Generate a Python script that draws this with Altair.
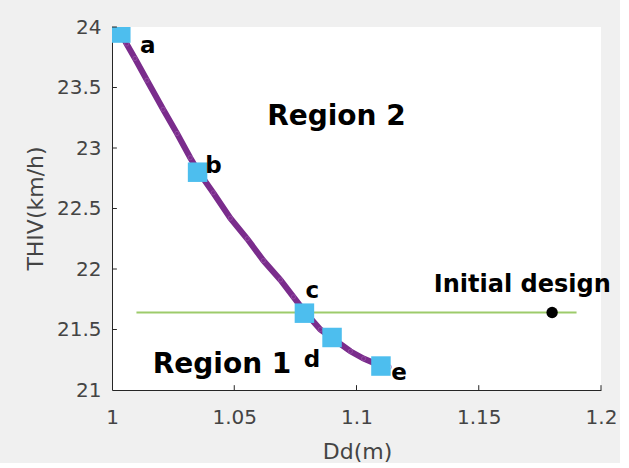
import altair as alt
import pandas as pd

# Pareto-like curve (Dd in m, THIV in km/h)
curve_dd = [1.0030, 1.0060, 1.0094, 1.0143, 1.0209, 1.0266, 1.0320, 1.0355,
            1.0414, 1.0484, 1.0553, 1.0619, 1.0689, 1.0742, 1.0791, 1.0852,
            1.0900, 1.0975, 1.1029, 1.1098, 1.1135]
curve_thiv = [23.97, 23.86, 23.74, 23.56, 23.32, 23.12, 22.92, 22.80,
              22.63, 22.42, 22.25, 22.07, 21.91, 21.77, 21.64, 21.50,
              21.43, 21.32, 21.26, 21.20, 21.19]

# highlighted designs
pt_labels = ["a", "b", "c", "d", "e"]
pt_dd = [1.0036, 1.035, 1.0787, 1.090, 1.110]
pt_thiv = [23.95, 22.80, 21.635, 21.434, 21.198]

# initial design and its THIV level line
init_dd = [1.18]
init_thiv = [21.64]
level_dd = [1.01, 1.19]
level_thiv = 21.64

x_ticks = [1, 1.05, 1.1, 1.15, 1.2]
y_ticks = [21, 21.5, 22, 22.5, 23, 23.5, 24]

W, H = 489, 363
XD, YD = [1, 1.2], [21, 24]

curve_df = pd.DataFrame({"Dd": curve_dd, "THIV": curve_thiv, "i": range(len(curve_dd))})
pts_df = pd.DataFrame({"Dd": pt_dd, "THIV": pt_thiv, "label": pt_labels})
init_df = pd.DataFrame({"Dd": init_dd, "THIV": init_thiv})
level_df = pd.DataFrame({"x1": [level_dd[0]], "x2": [level_dd[1]], "y": [level_thiv]})

axis_common = dict(
    grid=False, ticks=False, tickSize=0, domainColor="#262626", domainWidth=1,
    labelFont="DejaVu Sans", labelFontSize=20, labelColor="#444444",
    titleFont="DejaVu Sans", titleFontSize=22, titleFontWeight="normal",
    titleColor="#444444", labelExpr="'' + datum.value",
)

xs = alt.Scale(domain=XD, nice=False, zero=False)
ys = alt.Scale(domain=YD, nice=False, zero=False)

xenc = alt.X("Dd:Q", scale=xs, axis=alt.Axis(
    values=x_ticks, title="Dd(m)", labelPadding=17, labelFlush=False,
    titleX=245, titleY=68, titleBaseline="alphabetic", **axis_common))
yenc = alt.Y("THIV:Q", scale=ys, axis=alt.Axis(
    values=y_ticks, title="THIV(km/h)", labelPadding=11, labelFlush=False,
    titleX=-70, titleY=181, titleAngle=-90, titleBaseline="alphabetic",
    titleAlign="center", **axis_common))

base = alt.Chart(curve_df)

level = alt.Chart(level_df).mark_rule(color="#9dcb6b", strokeWidth=2).encode(
    x=alt.X("x1:Q", scale=xs), x2="x2:Q", y=alt.Y("y:Q", scale=ys))

line = base.mark_line(color="#7A2C8C", strokeWidth=6, clip=True).encode(
    x=xenc, y=yenc, order="i:Q")
dots = base.mark_point(shape="circle", size=18, color="#a35fb0", strokeWidth=1,
                       clip=True, opacity=0.6).encode(x="Dd:Q", y="THIV:Q")

squares = alt.Chart(pts_df).mark_point(shape="square", filled=True, size=380,
                                        color="#4DBEEE", opacity=1, clip=True).encode(
    x="Dd:Q", y="THIV:Q")

init = alt.Chart(init_df).mark_point(shape="circle", filled=True, size=130,
                                      color="black", opacity=1).encode(
    x="Dd:Q", y="THIV:Q")

offsets = {"a": (27, 20), "b": (16, 1), "c": (8, -15), "d": (-20, 29.5), "e": (18, 14)}
letter_layers = []
for lab in pt_labels:
    dx, dy = offsets[lab]
    letter_layers.append(
        alt.Chart(pts_df).transform_filter(alt.datum.label == lab).mark_text(
            font="DejaVu Sans", fontWeight="bold", fontSize=23, color="black",
            align="center", baseline="alphabetic", dx=dx, dy=dy).encode(
            x="Dd:Q", y="THIV:Q", text="label:N"))

def note(txt, x, y, size):
    return alt.Chart(pd.DataFrame({"t": [txt]})).mark_text(
        font="DejaVu Sans", fontWeight="bold", fontSize=size, color="black",
        align="center", baseline="alphabetic").encode(
        x=alt.datum(x, scale=xs), y=alt.datum(y, scale=ys), text="t:N")

region2 = note("Region 2", 1.0918, 23.19, 28)
region1 = note("Region 1", 1.045, 21.14, 28)
initial = note("Initial design", 1.1678, 21.81, 24)

# inward tick marks
tx = pd.DataFrame({"x": x_ticks[1:], "y": [YD[0]] * 4, "y2": [YD[0] + 0.04] * 4})
ty = pd.DataFrame({"y": y_ticks[1:], "x": [XD[0]] * 6, "x2": [XD[0] + 0.002] * 6})
xt = alt.Chart(tx).mark_rule(color="#262626", strokeWidth=1).encode(
    x=alt.X("x:Q", scale=xs), y=alt.Y("y:Q", scale=ys), y2="y2:Q")
yt = alt.Chart(ty).mark_rule(color="#262626", strokeWidth=1).encode(
    y=alt.Y("y:Q", scale=ys), x=alt.X("x:Q", scale=xs), x2="x2:Q")

chart = alt.layer(
    line, dots, level, squares, init, *letter_layers, region2, region1, initial, xt, yt
).properties(
    width=W, height=H,
    autosize=alt.AutoSizeParams(type="none"),
    padding={"left": 112, "top": 27, "right": 19, "bottom": 73},
    background="#f0f0f0",
).configure_view(fill="white", stroke=None)

chart.save("out.html", embed_options={"renderer": "svg", "actions": False})
